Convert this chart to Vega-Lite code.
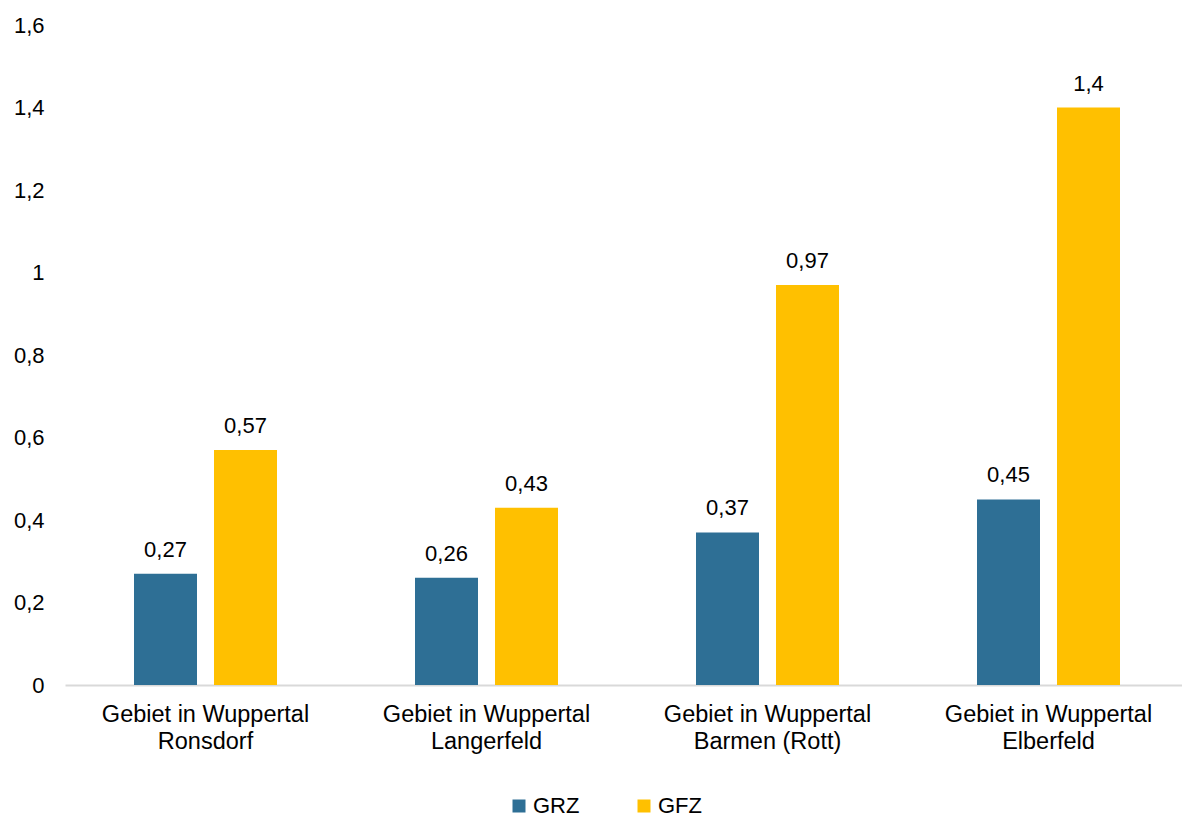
{
  "$schema": "https://vega.github.io/schema/vega-lite/v6.json",
  "autosize": {"type": "none"},
  "padding": {"left": 65, "top": 25, "right": 0, "bottom": 132},
  "width": 1117,
  "height": 660,
  "background": "white",
  "config": {
    "view": {"stroke": null},
    "font": "Liberation Sans",
    "locale": {"number": {"decimal": ",", "thousands": ".", "grouping": [3], "currency": ["", " €"]}}
  },
  "data": {
    "values": [
      {"gebiet": "Gebiet in Wuppertal Ronsdorf", "kennzahl": "GRZ", "wert": 0.27},
      {"gebiet": "Gebiet in Wuppertal Ronsdorf", "kennzahl": "GFZ", "wert": 0.57},
      {"gebiet": "Gebiet in Wuppertal Langerfeld", "kennzahl": "GRZ", "wert": 0.26},
      {"gebiet": "Gebiet in Wuppertal Langerfeld", "kennzahl": "GFZ", "wert": 0.43},
      {"gebiet": "Gebiet in Wuppertal Barmen (Rott)", "kennzahl": "GRZ", "wert": 0.37},
      {"gebiet": "Gebiet in Wuppertal Barmen (Rott)", "kennzahl": "GFZ", "wert": 0.97},
      {"gebiet": "Gebiet in Wuppertal Elberfeld", "kennzahl": "GRZ", "wert": 0.45},
      {"gebiet": "Gebiet in Wuppertal Elberfeld", "kennzahl": "GFZ", "wert": 1.4}
    ]
  },
  "encoding": {
    "x": {
      "field": "gebiet", "type": "nominal", "sort": null,
      "scale": {"paddingInner": 0, "paddingOuter": 0, "range": [0, 1124]},
      "axis": {
        "title": null, "labelAngle": 0, "ticks": false, "domainColor": "#d9d9d9", "domainWidth": 2,
        "labelFontSize": 23.5, "labelColor": "#000000", "labelPadding": 17, "labelLineHeight": 27,
        "labelLimit": 0,
        "labelExpr": "['Gebiet in Wuppertal', replace(datum.label, 'Gebiet in Wuppertal ', '')]"
      }
    },
    "xOffset": {
      "field": "kennzahl", "type": "nominal", "sort": ["GRZ", "GFZ"],
      "scale": {"paddingInner": 0.2125, "paddingOuter": 0.8625}
    },
    "y": {
      "field": "wert", "type": "quantitative",
      "scale": {"domain": [0, 1.6], "nice": false},
      "axis": {
        "title": null, "values": [0, 0.2, 0.4, 0.6, 0.8, 1, 1.2, 1.4, 1.6], "format": ".1~f",
        "domain": false, "ticks": false, "grid": false,
        "labelFontSize": 22, "labelColor": "#000000", "labelPadding": 21
      }
    }
  },
  "layer": [
    {
      "mark": {"type": "bar"},
      "encoding": {
        "color": {
          "field": "kennzahl", "type": "nominal", "sort": ["GRZ", "GFZ"],
          "scale": {"domain": ["GRZ", "GFZ"], "range": ["#2E6F95", "#FFC000"]},
          "legend": {
            "title": null, "orient": "none", "direction": "horizontal",
            "legendX": 443, "legendY": 770,
            "symbolType": "square", "symbolSize": 169, "symbolStrokeWidth": 0,
            "labelFontSize": 22, "labelColor": "#000000", "labelOffset": 3,
            "columnPadding": 53
          }
        }
      }
    },
    {
      "mark": {"type": "text", "baseline": "alphabetic", "dy": -17, "fontSize": 22, "color": "#000000"},
      "encoding": {
        "text": {"field": "wert", "type": "quantitative", "format": ".2~f"}
      }
    }
  ]
}
